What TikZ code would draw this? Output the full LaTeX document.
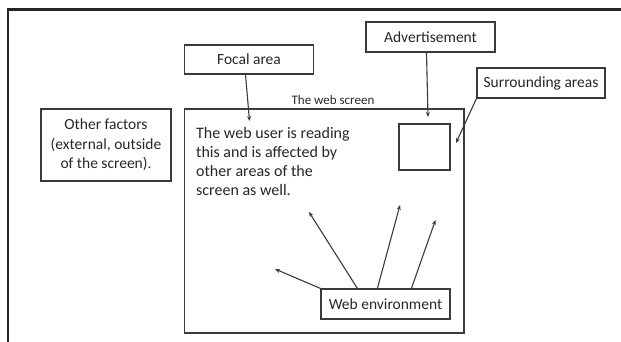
\documentclass[tikz,border=0pt]{standalone}
\usepackage{fontspec}
\setmainfont{Carlito}
\usetikzlibrary{arrows.meta}
\definecolor{inkgray}{HTML}{3A3A3A}
\tikzset{
  box/.style={draw=inkgray, line width=1.2pt, inner sep=0pt, align=center, text=black!85, font=\fontsize{15.5}{19.5}\selectfont},
  arr/.style={draw=inkgray, line width=1.1pt, -{Stealth[length=5pt,width=4pt]}},
}
\begin{document}
\begin{tikzpicture}[x=1pt,y=-1pt]
  \useasboundingbox (0,0) rectangle (621,341);
  % outer frame
  \draw[line width=2.6pt, black!85] (8,345) -- (8,9.5) -- (625,9.5);
  % labelled boxes
  \node[box, minimum width=129pt, minimum height=29pt] (focal) at (249,59.5) {Focal area};
  \node[box, minimum width=129pt, minimum height=30pt] (advert) at (430.5,37) {Advertisement};
  \node[box, minimum width=128pt, minimum height=30pt] (surround) at (541,83) {Surrounding areas};
  \node[box, minimum width=130pt, minimum height=72pt] (other) at (106,145)
    {Other factors\\(external, outside\\of the screen).};
  % the screen
  \node[draw=inkgray, line width=1.2pt, minimum width=279.5pt, minimum height=224pt, inner sep=0pt] (screen) at (324.25,221) {};
  \node[font=\fontsize{13}{15}\selectfont, text=black!85, inner sep=0pt] (screenlabel) at (333,100) {The web screen};
  \node[draw=inkgray, line width=1.2pt, minimum width=51pt, minimum height=46pt, inner sep=0pt] (adsquare) at (424.5,147) {};
  \node[anchor=north west, inner sep=0pt, align=left, text=black!85, font=\fontsize{16}{19.2}\selectfont] (reading) at (196,127)
    {The web user is reading\\this and is affected by\\other areas of the\\screen as well.};
  \node[box, minimum width=129pt, minimum height=30pt] (webenv) at (385.5,304) {Web environment};
  % arrow ends
  \coordinate (focaltip) at (249.5,121);
  \coordinate (adtip) at (428,117);
  \coordinate (surroundtip) at (456,143);
  \coordinate (envtipA) at (275,269);
  \coordinate (envtipB) at (309,212);
  \coordinate (envtipC) at (400,205);
  \coordinate (envtipD) at (435.5,220);
  % arrows
  \draw[arr] ([xshift=-3.5pt]focal.south) -- (focaltip);
  \draw[arr] ([xshift=-4pt]advert.south) -- (adtip);
  \draw[arr] (surround.south west) -- (surroundtip);
  \draw[arr] (webenv.north west) -- (envtipA);
  \draw[arr] ([xshift=37pt]webenv.north west) -- (envtipB);
  \draw[arr] ([xshift=57pt]webenv.north west) -- (envtipC);
  \draw[arr] ([xshift=91pt]webenv.north west) -- (envtipD);
\end{tikzpicture}
\end{document}
